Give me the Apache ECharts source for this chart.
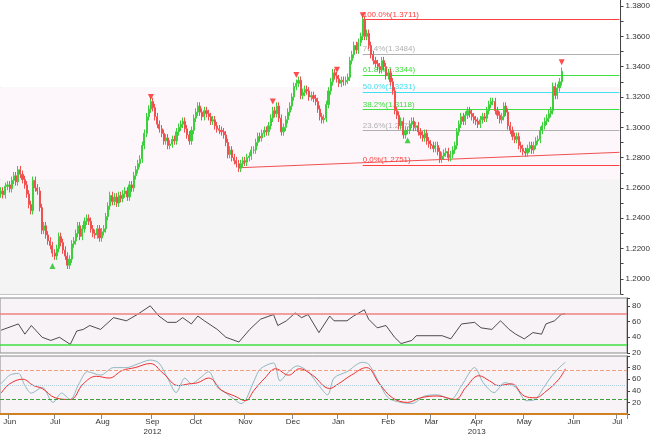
<!DOCTYPE html>
<html><head><meta charset="utf-8">
<script src="https://cdn.jsdelivr.net/npm/echarts@6/dist/echarts.min.js"></script>
<style>html,body{margin:0;padding:0;background:#fff}#c{width:653px;height:437px}</style>
</head><body><div id="c"></div>
<script>
// closes, one per trading day starting 2012-05-28
const closes = [
1.2580,1.2555,1.2610,1.2620,1.2595,1.2650,1.2680,1.2640,1.2720,1.2690,
1.2655,1.2620,1.2560,1.2490,1.2450,1.2650,1.2600,1.2580,1.2470,1.2320,
1.2350,1.2290,1.2250,1.2220,1.2170,1.2150,1.2200,1.2280,1.2240,1.2190,
1.2150,1.2090,1.2130,1.2230,1.2250,1.2300,1.2350,1.2280,1.2330,1.2380,
1.2400,1.2380,1.2330,1.2300,1.2290,1.2330,1.2270,1.2310,1.2330,1.2410,
1.2480,1.2550,1.2510,1.2540,1.2500,1.2550,1.2530,1.2560,1.2580,1.2540,
1.2620,1.2600,1.2680,1.2720,1.2760,1.2790,1.2880,1.2960,1.3070,1.3120,
1.3170,1.3130,1.3070,1.3020,1.2990,1.2960,1.2910,1.2930,1.2880,1.2890,
1.2920,1.2910,1.2970,1.3000,1.3020,1.3040,1.2990,1.2950,1.2910,1.2980,
1.3060,1.3100,1.3140,1.3100,1.3070,1.3110,1.3090,1.3070,1.3040,1.3050,
1.3010,1.2990,1.2980,1.2970,1.2950,1.2900,1.2820,1.2850,1.2800,1.2780,
1.2760,1.2730,1.2760,1.2780,1.2770,1.2800,1.2810,1.2850,1.2850,1.2900,
1.2940,1.2930,1.2960,1.2980,1.2970,1.3010,1.3060,1.3110,1.3090,1.3140,
1.3060,1.2970,1.3000,1.3050,1.3100,1.3140,1.3200,1.3270,1.3290,1.3310,
1.3210,1.3230,1.3250,1.3240,1.3200,1.3210,1.3190,1.3170,1.3120,1.3070,
1.3050,1.3060,1.3150,1.3240,1.3300,1.3360,1.3340,1.3320,1.3290,1.3310,
1.3300,1.3310,1.3330,1.3440,1.3480,1.3540,1.3510,1.3560,1.3600,1.3710,
1.3600,1.3620,1.3540,1.3480,1.3440,1.3420,1.3400,1.3380,1.3440,1.3400,
1.3340,1.3360,1.3300,1.3240,1.3110,1.3080,1.3010,1.3040,1.2950,1.2980,
1.2980,1.3020,1.3040,1.3000,1.3010,1.2970,1.2950,1.2930,1.2960,1.2910,
1.2890,1.2880,1.2860,1.2880,1.2840,1.2790,1.2810,1.2830,1.2840,1.2800,
1.2820,1.2850,1.2880,1.2970,1.3020,1.3070,1.3040,1.3080,1.3110,1.3090,
1.3070,1.3050,1.3040,1.3020,1.3050,1.3070,1.3060,1.3110,1.3150,1.3170,
1.3170,1.3110,1.3080,1.3050,1.3070,1.3140,1.3100,1.3010,1.2980,1.2940,
1.2920,1.2940,1.2880,1.2860,1.2840,1.2830,1.2860,1.2880,1.2850,1.2880,
1.2910,1.2920,1.2980,1.3010,1.3040,1.3060,1.3090,1.3110,1.3270,1.3210,
1.3260,1.3300,1.3370];
const startOpen = 1.2560;
// RSI readings [dayIndex, value]
const rsi = [[0,49],[8,57],[11,44],[14,55],[19,40],[23,36],[27,40],[32,31],[35,48],[38,50],[41,55],[46,50],[52,65],[58,61],[63,69],[69,80],[73,67],[77,59],[81,59],[84,65],[88,57],[91,67],[94,61],[100,50],[104,40],[110,34],[115,50],[120,63],[126,69],[128,55],[132,61],[136,71],[139,65],[142,69],[147,46],[152,67],[154,61],[160,61],[163,67],[168,75],[170,63],[174,52],[178,55],[182,40],[185,32],[190,36],[192,42],[198,42],[204,42],[208,38],[213,57],[219,59],[222,52],[227,50],[231,61],[235,50],[238,44],[242,38],[246,46],[250,44],[252,57],[256,61],[259,69],[261,70]];
const stochK = [[0,52],[4,67],[8,70],[11,49],[14,36],[19,46],[24,20],[28,36],[32,25],[36,52],[40,73],[46,67],[52,80],[58,80],[63,86],[69,93],[73,88],[77,62],[81,37],[85,62],[88,52],[92,62],[96,73],[100,46],[104,36],[108,25],[111,18],[113,23],[117,57],[120,78],[126,88],[129,57],[133,73],[137,83],[142,73],[147,49],[151,33],[154,62],[160,73],[167,89],[170,86],[174,60],[179,28],[185,20],[190,18],[196,31],[202,33],[208,25],[213,49],[219,80],[223,54],[228,37],[233,54],[238,46],[243,23],[247,25],[251,46],[255,67],[259,83],[261,89]];
const stochD = [[0,36],[4,52],[10,60],[15,49],[19,44],[25,28],[32,25],[38,52],[44,65],[50,62],[56,75],[62,80],[69,87],[75,70],[82,49],[87,52],[91,54],[96,62],[102,41],[108,31],[113,23],[117,41],[122,62],[127,78],[133,67],[138,78],[144,67],[152,44],[156,52],[162,67],[169,80],[175,52],[181,28],[188,20],[194,28],[202,31],[210,25],[215,46],[221,66],[226,57],[230,49],[236,52],[242,31],[247,28],[252,39],[258,60],[261,78]];
const fibLevels = [["100.0%",1.3711,"#ff4040"],["76.4%",1.3484,"#b0b0b0"],["61.8%",1.3344,"#40e040"],["50.0%",1.3231,"#40e0f0"],["38.2%",1.3118,"#40e040"],["23.6%",1.2978,"#b0b0b0"],["0.0%",1.2751,"#ff4040"]];
const fibStart = 169;
const trend = [[111,1.2733],[289,1.2835]];
const downMarks = [[70,1.3200],[127,1.3170],[138,1.3345],[157,1.3380],[169,1.3740],[262,1.3430]];
const upMarks = [[24,1.2085],[190,1.2915]];
const monthNames = ["Jan","Feb","Mar","Apr","May","Jun","Jul","Aug","Sep","Oct","Nov","Dec"];

// trading-day categories
const cats = [];
let d = new Date(Date.UTC(2012,4,28));
while (cats.length < 290) { const w=d.getUTCDay(); if(w>0&&w<6) cats.push(d.toISOString().slice(0,10)); d=new Date(d.getTime()+86400000); }
const firstOfMonth = new Set([4]);
for (let i=1;i<cats.length;i++){ if(cats[i].slice(5,7)!==cats[i-1].slice(5,7)) firstOfMonth.add(i); }

const ohlc = closes.map((c,i)=>{const o=i?closes[i-1]:startOpen;return [o,c,Math.min(o,c)-0.0025,Math.max(o,c)+0.0025];});

const lbl={color:'#333',fontSize:8,fontFamily:'Liberation Sans'};
const xBase=(gi,show)=>({type:'category',gridIndex:gi,data:cats,boundaryGap:true,
  axisLine:{show:show,lineStyle:{color:'#d08020',width:2}},axisTick:{show:show,interval:(i)=>firstOfMonth.has(i),lineStyle:{color:'#888'}},
  axisLabel:{show:show,interval:(i)=>firstOfMonth.has(i),...lbl,margin:3,lineHeight:10,
    formatter:(v)=>{const m=+v.slice(5,7)-1;const y=v.slice(0,4);let s=monthNames[m];if(m===8&&y==='2012')s+='\n2012';if(m===3&&y==='2013')s+='\n2013';return s;}},
  splitLine:{show:false}});
const yBase=(gi,min,max,iv,fmt)=>({type:'value',gridIndex:gi,position:'right',min,max,interval:iv,
  axisLine:{show:true,lineStyle:{color:'#444'}},axisTick:{show:true,length:3,lineStyle:{color:'#444'}},
  axisLabel:{...lbl,margin:5,formatter:fmt,showMinLabel:true},splitLine:{show:false}});

const chart=echarts.init(document.getElementById('c'));
chart.setOption({
  animation:false,backgroundColor:'#ffffff',
  grid:[{left:0,right:26,top:0,height:294,backgroundColor:'#f7f5f7',show:true,borderWidth:1,borderColor:'#8a8a8a'},
        {left:0,right:26,top:298,height:55,backgroundColor:'#f7f3f6',show:true,borderWidth:1,borderColor:'#8a8a8a'},
        {left:0,right:26,top:356,height:62,backgroundColor:'#f7f3f6',show:true,borderWidth:1,borderColor:'#8a8a8a'}],
  xAxis:[xBase(0,false),xBase(1,false),xBase(2,true)],
  yAxis:[yBase(0,1.19,1.384,0.01,(v)=>{const k=Math.round(v*100);return (k%2===0&&k<=138)?v.toFixed(4):'';}),
         yBase(1,20,90,20,(v)=>v>80?'':String(v)),
         yBase(2,0,100,20,(v)=>(v===0||v===100)?'':String(v))],
  series:[
    {type:'line',xAxisIndex:0,yAxisIndex:0,data:[],z:0,silent:true,
      markArea:{silent:true,z:0,data:[
        [{yAxis:1.384,itemStyle:{color:'#ffffff'}},{yAxis:1.3265}],
        [{yAxis:1.3265,itemStyle:{color:'#fdf7fb'}},{yAxis:1.2655}],
        [{yAxis:1.2655,itemStyle:{color:'#f5f4f5'}},{yAxis:1.19}]]}},
    {type:'candlestick',xAxisIndex:0,yAxisIndex:0,data:ohlc,barWidth:1.6,z:5,
      itemStyle:{color:'#3cd03c',color0:'#f05050',borderColor:'#3cd03c',borderColor0:'#f05050',borderWidth:1},
      markLine:{silent:true,symbol:'none',animation:false,
        data:fibLevels.map(f=>[{coord:[fibStart,f[1]],lineStyle:{color:f[2],width:1,type:'solid'},
          label:{show:true,position:'insideStartTop',distance:[0,1],formatter:f[0]+'('+f[1].toFixed(4)+')',color:f[2],fontSize:8,fontFamily:'Liberation Sans'}},
          {coord:[289,f[1]]}]).concat([[{coord:trend[0],lineStyle:{color:'#f05050',width:1,type:'solid'},label:{show:false}},{coord:trend[1]}]])}
    },
    {type:'scatter',xAxisIndex:0,yAxisIndex:0,data:downMarks,symbol:'triangle',symbolRotate:180,symbolSize:6,z:6,itemStyle:{color:'#ff2020'}},
    {type:'scatter',xAxisIndex:0,yAxisIndex:0,data:upMarks,symbol:'triangle',symbolSize:6,z:6,itemStyle:{color:'#20c020'}},
    {type:'line',xAxisIndex:1,yAxisIndex:1,data:rsi,symbol:'none',lineStyle:{color:'#222',width:0.8},
      markLine:{silent:true,symbol:'none',label:{show:false},data:[
        {yAxis:70,lineStyle:{color:'#f08080',width:1.5,type:'solid'}},{yAxis:30,lineStyle:{color:'#40e040',width:1.5,type:'solid'}}]}},
    {type:'line',xAxisIndex:2,yAxisIndex:2,data:stochK,symbol:'none',smooth:0.3,lineStyle:{color:'#90b8c0',width:1},
      markLine:{silent:true,symbol:'none',label:{show:false},data:[
        {yAxis:75,lineStyle:{color:'#f0a080',width:1,type:'dashed'}},
        {yAxis:50,lineStyle:{color:'#b0d0e0',width:1,type:'dotted'}},
        {yAxis:25,lineStyle:{color:'#40a040',width:1,type:'dashed'}}]}},
    {type:'line',xAxisIndex:2,yAxisIndex:2,data:stochD,symbol:'none',smooth:0.4,lineStyle:{color:'#f03030',width:1}}
  ]
});
</script></body></html>
